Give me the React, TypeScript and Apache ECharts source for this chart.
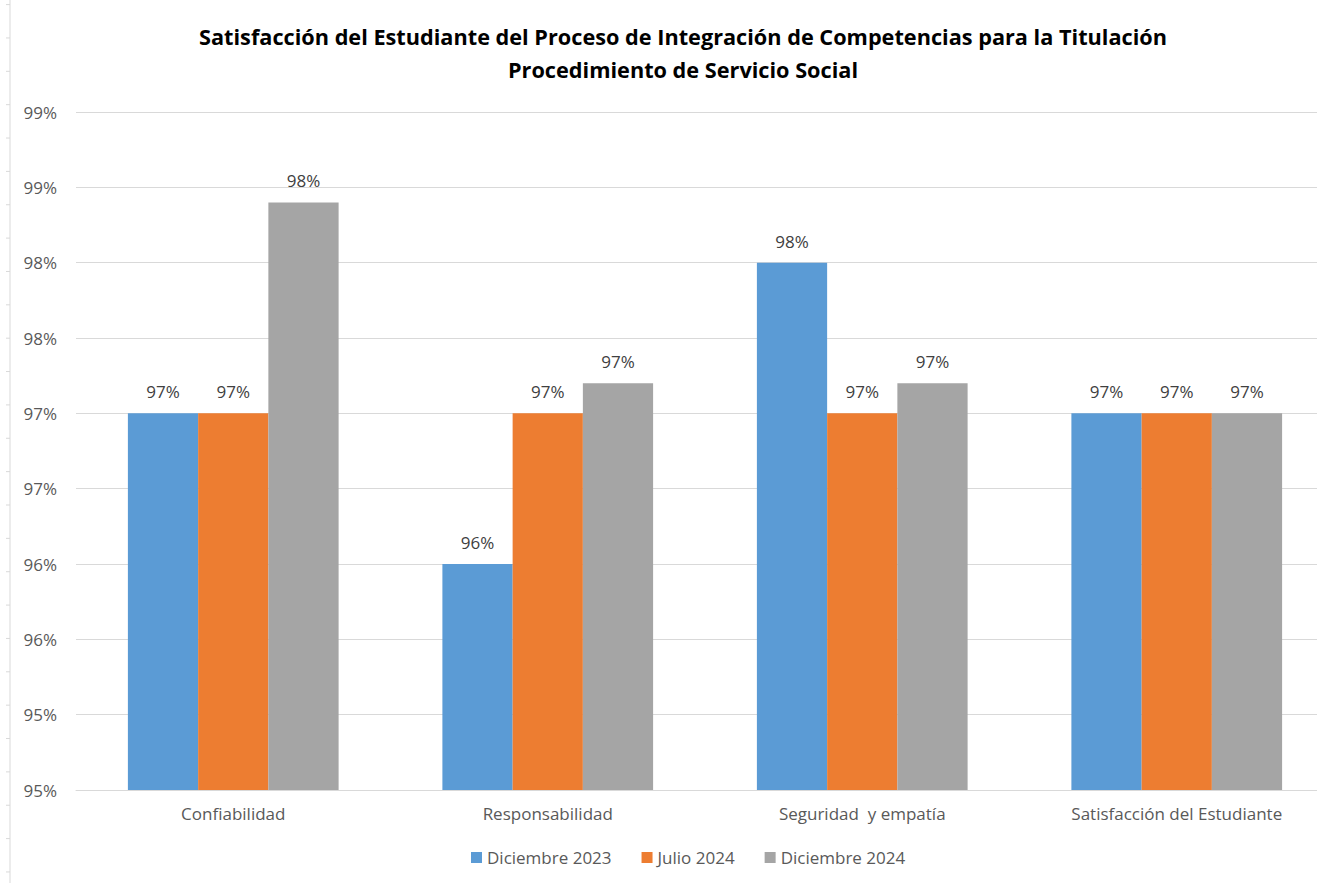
import React, { useEffect, useRef } from "react";
import * as echarts from "echarts";

const categories = ["Confiabilidad", "Responsabilidad", "Seguridad  y empatía", "Satisfacción del Estudiante"];
const seriesNames = ["Diciembre 2023", "Julio 2024", "Diciembre 2024"];
const dic2023 = [97.0, 96.0, 98.0, 97.0];
const jul2024 = [97.0, 97.0, 97.0, 97.0];
const dic2024 = [98.4, 97.2, 97.2, 97.0];
const colors = ["#5B9BD5", "#ED7D31", "#A5A5A5"];
const yMin = 94.5;
const yMax = 99.0;
const yInterval = 0.5;

const FONT = "Open Sans";

function fmtPct(v: number) {
  const r = Math.round(Math.round(v * 100) / 100 + 1e-9);
  return r + "%";
}

export default function App() {
  const ref = useRef<HTMLDivElement>(null);
  useEffect(() => {
    if (!ref.current) return;
    const chart = echarts.init(ref.current, null, { renderer: "svg" });
    const all = [dic2023, jul2024, dic2024];
    const rulerTicks: any[] = [];
    for (let i = 0; i < 27; i++) {
      const y = 4.6 + i * 33.36;
      rulerTicks.push({
        type: "line",
        shape: { x1: 6, y1: y, x2: 10, y2: y },
        style: { stroke: "#D9D9D9", lineWidth: 1 },
        silent: true,
      });
    }
    chart.setOption({
      animation: false,
      backgroundColor: "#FFFFFF",
      textStyle: { fontFamily: FONT },
      title: {
        text: "Satisfacción del Estudiante del Proceso de Integración de Competencias para la Titulación\nProcedimiento de Servicio Social",
        left: 678,
        textAlign: "center",
        top: 15,
        textStyle: { fontFamily: FONT, fontWeight: "bold", fontSize: 21.7, color: "#000000", lineHeight: 33 },
      },
      legend: {
        data: seriesNames,
        top: 844,
        left: 466,
        itemWidth: 11,
        itemHeight: 11,
        itemGap: 30,
        icon: "rect",
        textStyle: { fontFamily: FONT, fontSize: 17, color: "#595959" },
      },
      grid: { left: 76, top: 112, width: 1258, height: 678, containLabel: false },
      xAxis: {
        type: "category",
        data: categories,
        axisLine: { show: true, lineStyle: { color: "#D9D9D9" } },
        axisTick: { show: false },
        axisLabel: { fontFamily: FONT, fontSize: 17, color: "#595959", margin: 15 },
      },
      yAxis: {
        type: "value",
        min: yMin,
        max: yMax,
        interval: yInterval,
        axisLine: { show: false },
        axisTick: { show: false },
        splitLine: { lineStyle: { color: "#D9D9D9", width: 1 } },
        axisLabel: { fontFamily: FONT, fontSize: 17, color: "#595959", margin: 19, formatter: (v: number) => fmtPct(v) },
      },
      series: all.map((d, i) => ({
        name: seriesNames[i],
        type: "bar",
        data: d,
        barGap: "0%",
        barCategoryGap: "33%",
        itemStyle: { color: colors[i] },
        label: {
          show: true,
          position: "top",
          distance: 13,
          fontFamily: FONT,
          fontSize: 17,
          color: "#404040",
          formatter: (p: any) => fmtPct(p.value),
        },
      })),
      graphic: [
        {
          type: "line",
          shape: { x1: 10, y1: 0, x2: 10, y2: 883 },
          style: { stroke: "#D9D9D9", lineWidth: 1 },
          silent: true,
        },
        ...rulerTicks,
      ],
    });
    return () => chart.dispose();
  }, []);
  return (
    <div style={{ position: "fixed", left: 0, top: 0, width: 1317, height: 883, overflow: "hidden" }}>
      <div ref={ref} style={{ position: "absolute", left: 0, top: 0, width: 1345, height: 883 }} />
    </div>
  );
}
